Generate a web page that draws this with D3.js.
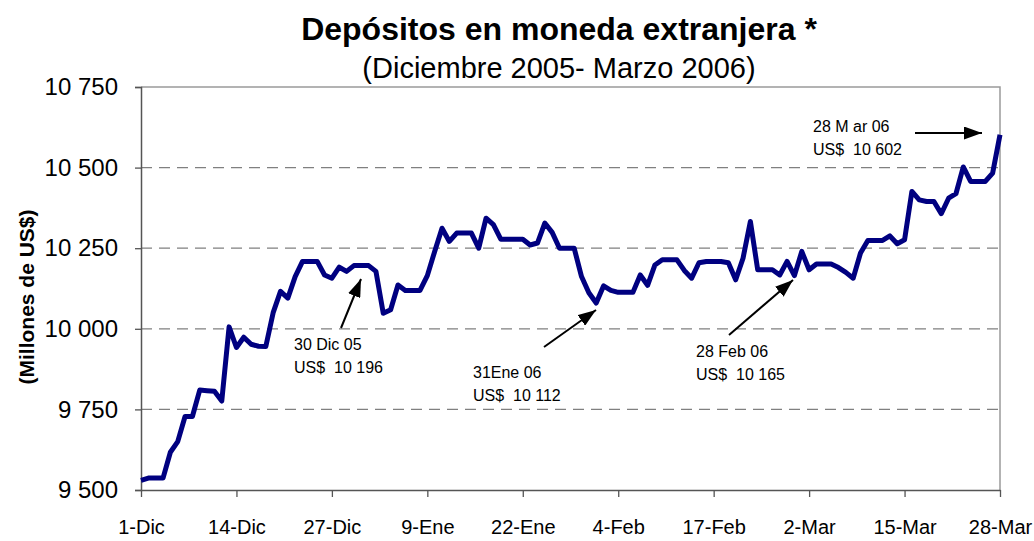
<!DOCTYPE html>
<html>
<head>
<meta charset="utf-8">
<script src="https://cdn.jsdelivr.net/npm/d3@7/dist/d3.min.js"></script>
<style>
  body { margin: 0; background: #fff; }
  svg { font-family: "Liberation Sans", Arial, sans-serif; }
</style>
</head>
<body>
<svg id="chart"></svg>
<script>
// depósitos diarios (millones de US$), un valor por día calendario
var dic = [9530, 9537, 9537, 9537, 9617, 9650, 9728, 9728, 9810, 9808,
           9806, 9776, 10006, 9942, 9974, 9952, 9946, 9945, 10050, 10116,
           10095, 10162, 10209, 10209, 10209, 10167, 10157, 10191, 10178, 10196,
           10196];
var ene = [10196, 10178, 10048, 10059, 10136, 10119, 10119, 10119, 10165, 10240,
           10312, 10271, 10297, 10297, 10297, 10250, 10343, 10323, 10278, 10278,
           10278, 10278, 10260, 10266, 10328, 10299, 10250, 10250, 10250, 10162,
           10112];
var feb = [10080, 10133, 10119, 10113, 10113, 10113, 10167, 10135, 10198, 10214,
           10214, 10214, 10181, 10157, 10205, 10209, 10209, 10209, 10205, 10152,
           10219, 10333, 10183, 10183, 10183, 10167, 10209, 10165];
var mar = [10240, 10183, 10201, 10201, 10201, 10190, 10175, 10157, 10235, 10274,
           10274, 10274, 10288, 10264, 10276, 10426, 10400, 10395, 10395, 10357,
           10405, 10419, 10502, 10457, 10457, 10457, 10483, 10602];

var startDate = new Date(2005, 11, 1);
var xTickLabels = ["1-Dic", "14-Dic", "27-Dic", "9-Ene", "22-Ene", "4-Feb", "17-Feb", "2-Mar", "15-Mar", "28-Mar"];
var yTicks = [9500, 9750, 10000, 10250, 10500, 10750];
var yTickLabels = ["9 500", "9 750", "10 000", "10 250", "10 500", "10 750"];

var notes = [
    {lines: ["30 Dic 05", "US$  10 196"], tx: 294, ty: 350, from: [341, 328], to: [361, 279]},
    {lines: ["31Ene 06", "US$  10 112"], tx: 473, ty: 378, from: [544, 347], to: [596, 310]},
    {lines: ["28 Feb 06", "US$  10 165"], tx: 696, ty: 357, from: [729, 335], to: [793, 280]},
    {lines: ["28 M ar 06", "US$  10 602"], tx: 813, ty: 132, from: [915, 133], to: [982, 133]}
];

var width = 1034, height = 541;
var margin = {top: 87, right: 34, bottom: 51, left: 141};

var values = dic.concat(ene, feb, mar);
var data = values.map(function (v, i) {
    return {date: d3.timeDay.offset(startDate, i), value: v};
});
var tickDates = xTickLabels.map(function (l, i) { return d3.timeDay.offset(startDate, i * 13); });

var svg = d3.select("#chart")
    .attr("width", width)
    .attr("height", height);

var x = d3.scaleTime()
    .domain([startDate, data[data.length - 1].date])
    .range([margin.left, width - margin.right]);

var y = d3.scaleLinear()
    .domain([9500, 10750])
    .range([height - margin.bottom, margin.top]);

svg.append("defs").append("marker")
    .attr("id", "arrow")
    .attr("viewBox", "0 0 10 10")
    .attr("refX", 10).attr("refY", 5)
    .attr("markerWidth", 18).attr("markerHeight", 13)
    .attr("markerUnits", "userSpaceOnUse")
    .attr("orient", "auto")
    .attr("preserveAspectRatio", "none")
    .append("path")
    .attr("d", "M0,0L10,5L0,10z")
    .attr("fill", "#000");

// gridlines
svg.append("g")
    .selectAll("line")
    .data(yTicks.slice(1, -1))
    .enter().append("line")
    .attr("x1", margin.left)
    .attr("x2", width - margin.right)
    .attr("y1", function (d) { return y(d); })
    .attr("y2", function (d) { return y(d); })
    .attr("stroke", "#808080")
    .attr("stroke-width", 1.3)
    .attr("stroke-dasharray", "11,7");

// frame top / right
svg.append("path")
    .attr("d", "M" + margin.left + "," + y(10750) + "H" + x.range()[1] + "V" + y(9500))
    .attr("fill", "none")
    .attr("stroke", "#9a9a9a")
    .attr("stroke-width", 1.5);

var yAxis = d3.axisLeft(y)
    .tickValues(yTicks)
    .tickFormat(function (d, i) { return yTickLabels[i]; })
    .tickSize(6)
    .tickPadding(17);

svg.append("g")
    .attr("transform", "translate(" + margin.left + ",0)")
    .call(yAxis)
    .call(function (g) {
        g.select(".domain").attr("stroke", "#555").attr("stroke-width", 1.5);
        g.selectAll(".tick line").attr("stroke", "#555").attr("stroke-width", 1.3);
        g.selectAll("text")
            .attr("fill", "#000")
            .style("font-size", "24px");
    });

var xAxis = d3.axisBottom(x)
    .tickValues(tickDates)
    .tickFormat(function (d, i) { return xTickLabels[i]; })
    .tickSize(7)
    .tickPadding(23)
    .tickSizeOuter(0);

svg.append("g")
    .attr("transform", "translate(0," + (height - margin.bottom) + ")")
    .call(xAxis)
    .call(function (g) {
        g.select(".domain").attr("stroke", "#555").attr("stroke-width", 1.5);
        g.selectAll(".tick line").attr("stroke", "#555").attr("stroke-width", 1.3);
        g.selectAll("text")
            .attr("fill", "#000")
            .style("font-size", "20px");
    });

var line = d3.line()
    .x(function (d) { return x(d.date); })
    .y(function (d) { return y(d.value); });

svg.append("path")
    .datum(data)
    .attr("d", line)
    .attr("fill", "none")
    .attr("stroke", "#000080")
    .attr("stroke-width", 5)
    .attr("stroke-linejoin", "round");

// titles
svg.append("text")
    .attr("x", 559).attr("y", 40)
    .attr("text-anchor", "middle")
    .style("font-size", "32px")
    .style("font-weight", "bold")
    .text("Depósitos en moneda extranjera *");

svg.append("text")
    .attr("x", 559).attr("y", 78)
    .attr("text-anchor", "middle")
    .style("font-size", "29px")
    .text("(Diciembre 2005- Marzo 2006)");

svg.append("text")
    .attr("transform", "translate(34,297)rotate(-90)")
    .attr("text-anchor", "middle")
    .style("font-size", "21px")
    .style("font-weight", "bold")
    .text("(Millones de US$)");

// annotations
var ann = svg.append("g").selectAll("g")
    .data(notes)
    .enter().append("g");

ann.append("text")
    .attr("x", function (d) { return d.tx; })
    .attr("y", function (d) { return d.ty; })
    .style("font-size", "16px")
    .style("white-space", "pre")
    .attr("xml:space", "preserve")
    .selectAll("tspan")
    .data(function (d) { return d.lines.map(function (l) { return {l: l, x: d.tx}; }); })
    .enter().append("tspan")
    .attr("x", function (d) { return d.x; })
    .attr("dy", function (d, i) { return i === 0 ? 0 : 23; })
    .text(function (d) { return d.l; });

ann.append("line")
    .attr("x1", function (d) { return d.from[0]; })
    .attr("y1", function (d) { return d.from[1]; })
    .attr("x2", function (d) { return d.to[0]; })
    .attr("y2", function (d) { return d.to[1]; })
    .attr("stroke", "#000")
    .attr("stroke-width", 2)
    .attr("marker-end", "url(#arrow)");
</script>
</body>
</html>
